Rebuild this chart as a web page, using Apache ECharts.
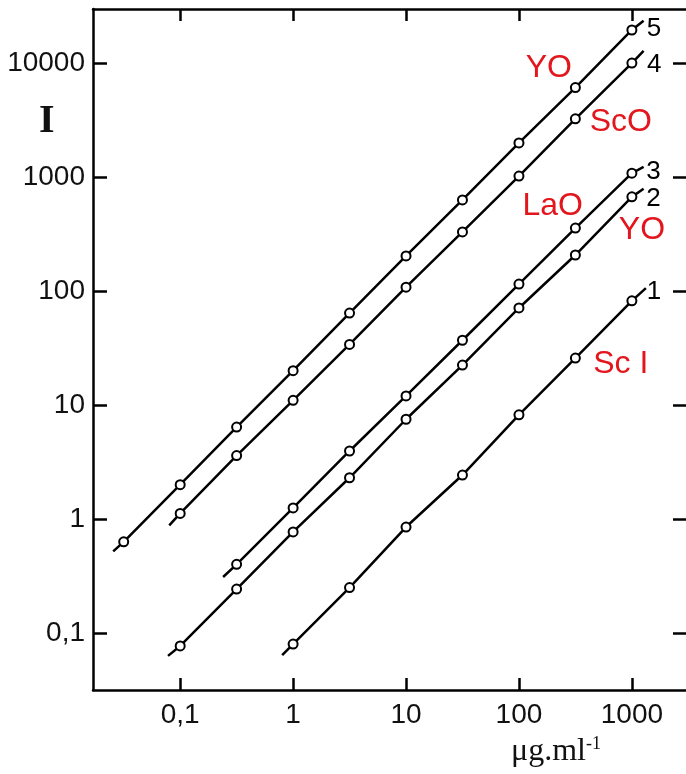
<!DOCTYPE html>
<html><head><meta charset="utf-8">
<script src="https://cdn.jsdelivr.net/npm/echarts@6/dist/echarts.min.js"></script>
<style>html,body{margin:0;padding:0;background:#fff}#c{width:686px;height:774px}</style>
</head><body><div id="c"></div>
<script>
// concentration (µg/ml) of the measured points
const conc5 = [0.0316, 0.1, 0.316, 1, 3.16, 10, 31.6, 100, 316, 1000];
const int5  = [0.63, 2.0, 6.4, 20, 64, 203, 630, 1990, 6100, 19500];
const conc4 = [0.1, 0.316, 1, 3.16, 10, 31.6, 100, 316, 1000];
const int4  = [1.12, 3.6, 11, 34, 108, 330, 1020, 3240, 10000];
const conc3 = [0.316, 1, 3.16, 10, 31.6, 100, 316, 1000];
const int3  = [0.40, 1.25, 3.95, 12, 37, 115, 357, 1080];
const conc2 = [0.1, 0.316, 1, 3.16, 10, 31.6, 100, 316, 1000];
const int2  = [0.077, 0.243, 0.77, 2.3, 7.5, 22.4, 71, 207, 670];
const conc1 = [1, 3.16, 10, 31.6, 100, 316, 1000];
const int1  = [0.08, 0.25, 0.85, 2.43, 8.2, 25.8, 82];
// where each drawn line starts and ends [conc, intensity]
const lineStart = [[0.8, 0.064], [0.078, 0.063], [0.24, 0.31], [0.08, 0.88], [0.0255, 0.52]];
const lineEnd   = [[1330, 106], [1270, 790], [1270, 1230], [1270, 12800], [1270, 23500]];
// curve numbers and where they sit
const curveNames = ['1', '2', '3', '4', '5'];
const curveNameConc = [1570, 1550, 1550, 1580, 1570];
const curveNameInt  = [98, 640, 1120, 9700, 19800];
// red annotations
const annoText = ['YO', 'ScO', 'LaO', 'YO', 'Sc I'];
const annoConc = [184, 798, 199, 1227, 798];
const annoInt  = [9000, 3006, 557, 343, 22.9];
// ticks
const xTicks = [0.1, 1, 10, 100, 1000];
const yTicks = [0.1, 1, 10, 100, 1000, 10000];

const concs = [conc1, conc2, conc3, conc4, conc5];
const ints = [int1, int2, int3, int4, int5];

const numFont = "'Liberation Sans',Arial,sans-serif";
const serif = "'Liberation Serif','DejaVu Serif',serif";
const fmt = v => String(Number(Number(v).toPrecision(6))).replace('.', ',');

const series = [];
for (let i = 0; i < 5; i++) {
  const data = [{value: lineStart[i], symbol: 'none'}];
  concs[i].forEach((c, j) => data.push({value: [c, ints[i][j]]}));
  data.push({value: lineEnd[i], symbol: 'none'});
  series.push({
    type: 'line', data: data, showAllSymbol: true,
    symbol: 'circle', symbolSize: 9,
    lineStyle: {color: '#000', width: 2.5},
    itemStyle: {color: '#fff', borderColor: '#000', borderWidth: 2},
    emphasis: {disabled: true}, animation: false, z: 3
  });
}
series.push({
  type: 'scatter', symbolSize: 1, itemStyle: {color: 'transparent', opacity: 1},
  data: curveNames.map((t, i) => ({name: t, value: [curveNameConc[i], curveNameInt[i]]})),
  label: {show: true, position: 'inside', formatter: p => p.name,
    color: '#000', fontSize: 26, fontFamily: numFont},
  emphasis: {disabled: true}, animation: false, z: 4
});
series.push({
  type: 'scatter', symbolSize: 1, itemStyle: {color: 'transparent', opacity: 1},
  data: annoText.map((t, i) => ({name: t, value: [annoConc[i], annoInt[i]]})),
  label: {show: true, position: 'inside', formatter: p => p.name,
    color: '#e3161d', fontSize: 32, fontFamily: numFont},
  emphasis: {disabled: true}, animation: false, z: 4
});

const axisLine = {show: true, lineStyle: {color: '#000', width: 2.5}};
const tickStyle = {color: '#000', width: 2.5};

const option = {
  backgroundColor: '#fff',
  animation: false,
  grid: {left: 93, top: 9, width: 594, height: 681, outerBoundsMode: 'none', containLabel: false},
  xAxis: [{
    type: 'log', min: 0.0169, max: 3077, position: 'bottom',
    axisLine: axisLine,
    axisTick: {show: true, inside: true, length: 12, lineStyle: tickStyle, customValues: xTicks},
    axisLabel: {show: true, margin: 11, color: '#111', fontSize: 28, fontFamily: numFont,
      customValues: xTicks, formatter: fmt},
    minorTick: {show: false}, splitLine: {show: false}
  }, {
    type: 'log', min: 0.0169, max: 3077, position: 'top',
    axisLine: axisLine,
    axisTick: {show: true, inside: true, length: 12, lineStyle: tickStyle, customValues: xTicks},
    axisLabel: {show: false}, splitLine: {show: false}
  }],
  yAxis: [{
    type: 'log', min: 0.0316, max: 29800, position: 'left',
    axisLine: axisLine,
    axisTick: {show: true, inside: true, length: 14, lineStyle: tickStyle, customValues: yTicks},
    axisLabel: {show: true, margin: 8, color: '#111', fontSize: 28, fontFamily: numFont,
      customValues: yTicks, formatter: fmt},
    splitLine: {show: false}
  }, {
    type: 'log', min: 0.0316, max: 29800, position: 'right',
    axisLine: {show: false},
    axisTick: {show: true, inside: true, length: 14, lineStyle: tickStyle, customValues: yTicks},
    axisLabel: {show: false}, splitLine: {show: false}
  }],
  graphic: [
    {type: 'text', left: 39, top: 102, style: {text: 'I', fontSize: 40, fontWeight: 'bold',
      fontFamily: serif, fill: '#111'}},
    {type: 'text', left: 511, top: 735, style: {
      text: '{a|μg.ml}{b|-1}',
      rich: {
        a: {fontSize: 32, lineHeight: 34, fontFamily: serif, fill: '#111'},
        b: {fontSize: 18, lineHeight: 22, verticalAlign: 'top', fontFamily: serif, fill: '#111'}
      }}}
  ],
  series: series
};
const chart = echarts.init(document.getElementById('c'), null, {renderer: 'canvas'});
chart.setOption(option);
</script>
</body></html>
